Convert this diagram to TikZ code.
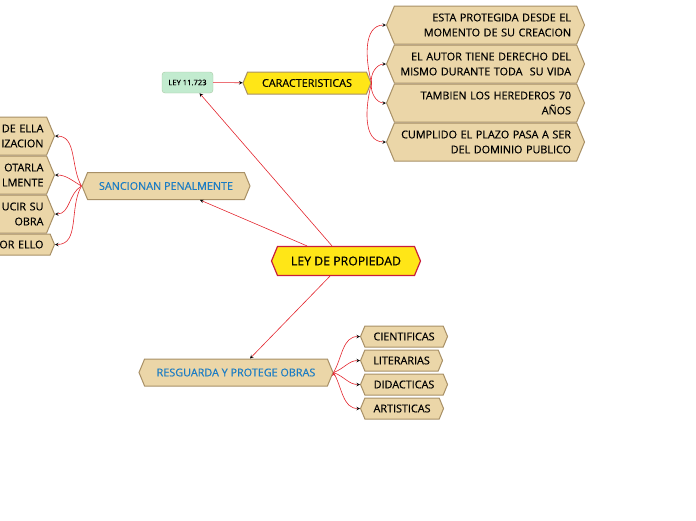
\documentclass[tikz,border=0pt]{standalone}
\usepackage{fontspec}
\setmainfont{Open Sans}[UprightFeatures={FakeBold=0.5}]
\usetikzlibrary{positioning,arrows,shapes.symbols}

\definecolor{linkred}{HTML}{E3262E}
\definecolor{tanfill}{HTML}{EBD6A8}
\definecolor{tanline}{HTML}{A89066}
\definecolor{topyellow}{HTML}{FFE617}
\definecolor{topline}{HTML}{C81E3C}
\definecolor{greenfill}{HTML}{C2EBCF}
\definecolor{greenline}{HTML}{A9C9A4}
\definecolor{subblue}{HTML}{1B7CC4}

\tikzset{
  hexa/.style={signal, signal to=west and east, signal pointer angle=135,
    draw=tanline, fill=tanfill, line width=1pt, inner sep=1pt,
    font=\fontsize{10.8}{15}\selectfont},
  item/.style={hexa, minimum width=198pt, minimum height=38pt,
    text width=171pt, align=right},
  leftitem/.style={hexa, minimum width=150pt, minimum height=38pt,
    text width=128pt, align=right},
  smallitem/.style={hexa, minimum height=21pt, inner xsep=5pt},
  branch/.style={hexa, minimum height=27pt, text=subblue},
  link/.style={draw=linkred, line width=0.6pt, ->, >=stealth}
}

\begin{document}
\begin{tikzpicture}[x=1pt, y=-1pt]
  \useasboundingbox (0,0) rectangle (696,520);

  % central topic
  \node[hexa, draw=topline, fill=topyellow, minimum width=149pt, minimum height=29pt,
    line width=1.2pt, font=\fontsize{12.3}{14}\selectfont] (ley) at (346,261) {LEY DE PROPIEDAD};

  % upper branch
  \node[hexa, fill=topyellow, minimum width=128pt, minimum height=22pt] (carac) at (307,83) {CARACTERISTICAS};
  \node[draw=greenline, fill=greenfill, rounded corners=3pt, minimum width=51pt,
    minimum height=21pt, font=\fontsize{7.6}{9}\selectfont] (ley11) at (187.5,82.5) {LEY 11.723};

  \node[item, anchor=west] (c1) at (386,25) {ESTA PROTEGIDA DESDE EL\\MOMENTO DE SU CREACION};
  \node[item, anchor=west] (c2) at (386,64) {EL AUTOR TIENE DERECHO DEL\\MISMO DURANTE TODA\ \ SU VIDA};
  \node[item, anchor=west] (c3) at (386,103) {TAMBIEN LOS HEREDEROS 70\\AÑOS};
  \node[item, anchor=west] (c4) at (386,142) {CUMPLIDO EL PLAZO PASA A SER\\DEL DOMINIO PUBLICO};

  % left branch
  \node[branch, minimum width=168pt] (sanc) at (166,186) {SANCIONAN PENALMENTE};
  \node[leftitem, anchor=east] (s1) at (55,136) {DE ELLA\\IZACION};
  \node[leftitem, anchor=east] (s2) at (55,175) {OTARLA\\LMENTE};
  \node[leftitem, anchor=east] (s3) at (55,214) {UCIR SU\\OBRA};
  \node[leftitem, anchor=east, minimum height=21pt] (s4) at (55,244.5) {OR ELLO};

  % lower branch
  \node[branch, minimum width=194pt] (resg) at (236,372.5) {RESGUARDA Y PROTEGE OBRAS};
  \node[smallitem, anchor=west, minimum width=87pt] (r1) at (360,336.5) {CIENTIFICAS};
  \node[smallitem, anchor=west, minimum width=82pt] (r2) at (360,360.5) {LITERARIAS};
  \node[smallitem, anchor=west, minimum width=87pt] (r3) at (360,384.5) {DIDACTICAS};
  \node[smallitem, anchor=west, minimum width=83pt] (r4) at (360,408.5) {ARTISTICAS};

  \path[link]
  ([xshift=-39pt]ley.north) edge ([xshift=34pt]sanc.south)
  ([xshift=-14pt]ley.north) edge ([xshift=12pt]ley11.south)
  ([xshift=-16pt]ley.south) edge ([xshift=14pt]resg.north)
  (ley11) edge (carac)
  (carac.east) edge[out=105, in=180] (c1.west)
               edge[out=100, in=180] (c2.west)
               edge[out=-100, in=180] (c3.west)
               edge[out=-105, in=180] (c4.west)
  (sanc.west) edge[out=120, in=0] (s1.east)
              edge[out=150, in=0] (s2.east)
              edge[out=210, in=0] (s3.east)
              edge[out=240, in=0] (s4.east)
  (resg.east) edge[out=60, in=180] (r1.west)
              edge[out=20, in=180] (r2.west)
              edge[out=-20, in=180] (r3.west)
              edge[out=-60, in=180] (r4.west);
\end{tikzpicture}
\end{document}
